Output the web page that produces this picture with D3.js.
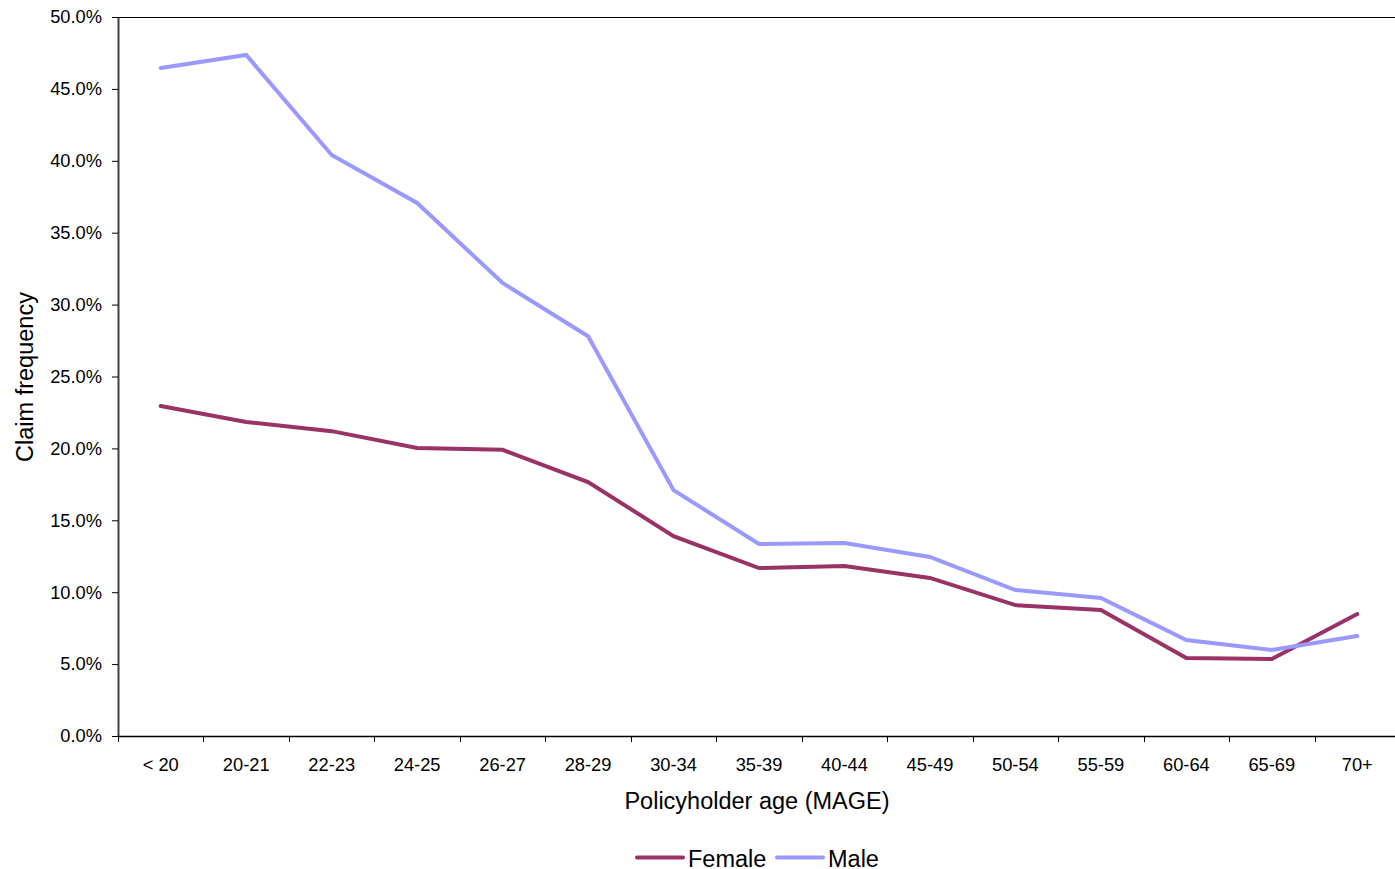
<!DOCTYPE html>
<html><head><meta charset="utf-8">
<script src="https://cdn.jsdelivr.net/npm/d3@7"></script>
<style>body{margin:0;background:#fff;} svg{display:block;font-family:"Liberation Sans",Arial,sans-serif;}</style>
</head><body>
<svg id="c" width="1395" height="869"></svg>
<script>
const categories = ["< 20","20-21","22-23","24-25","26-27","28-29","30-34","35-39","40-44","45-49","50-54","55-59","60-64","65-69","70+"];
const female = [0.2295,0.2184,0.2120,0.2003,0.1990,0.1766,0.1390,0.1168,0.1182,0.1099,0.0910,0.0876,0.0542,0.0535,0.0848];
const male = [0.4645,0.4736,0.4040,0.3707,0.3150,0.2780,0.1710,0.1335,0.1342,0.1245,0.1015,0.0960,0.0668,0.0598,0.0695];
const yTicks = [0,0.05,0.10,0.15,0.20,0.25,0.30,0.35,0.40,0.45,0.50];
const seriesNames = ["Female","Male"];
const colors = ["#993366","#9999FF"];

(function(){
const svg = d3.select("#c");
const pL = 118, pR = 1400, pT = 17, pB = 736;
const FF = "Liberation Sans, Arial, sans-serif";
const x = d3.scaleBand().domain(categories).range([pL, pR]);
const y = d3.scaleLinear().domain([0, 0.5]).range([pB, pT]);

svg.append("line").attr("x1", pL).attr("x2", pR).attr("y1", pT+0.5).attr("y2", pT+0.5).attr("stroke", "#000").attr("stroke-width", 1);

const ya = svg.append("g").attr("transform", `translate(${pL},0)`)
  .call(d3.axisLeft(y).tickValues(yTicks).tickFormat(d3.format(".1%")).tickSize(6).tickSizeOuter(0));
ya.select(".domain").attr("stroke", "#404040").attr("stroke-width", 2);
ya.selectAll(".tick line").attr("stroke", "#000");
ya.selectAll(".tick text").attr("font-size", 18.3).attr("fill", "#000").attr("x", -16).attr("font-family", FF);

const xa = svg.append("g").attr("transform", `translate(0,${pB})`)
  .call(d3.axisBottom(x).tickSize(0).tickSizeOuter(0));
xa.select(".domain").attr("stroke", "#000").attr("stroke-width", 1.5);
xa.selectAll(".tick text").attr("font-size", 18.3).attr("fill", "#000").attr("y", 35).attr("dy", 0).attr("font-family", FF);
const bounds = categories.map(c => x(c)).concat([pR]);
xa.selectAll(".btick").data(bounds).enter().append("line").attr("class","btick")
  .attr("x1", d => Math.round(d)+0.5).attr("x2", d => Math.round(d)+0.5).attr("y1", 0).attr("y2", 6).attr("stroke", "#000");

const line = d3.line().x((d,i) => x(categories[i]) + x.bandwidth()/2).y(d => y(d));
[female, male].forEach((s, k) => {
  svg.append("path").datum(s).attr("d", line).attr("fill", "none")
    .attr("stroke", colors[k]).attr("stroke-width", 4).attr("stroke-linejoin", "miter").attr("stroke-linecap", "round");
});

svg.append("text").attr("x", 757).attr("y", 809).attr("text-anchor", "middle").attr("font-size", 23.5).text("Policyholder age (MAGE)");
svg.append("text").attr("transform", "translate(33,377) rotate(-90)").attr("text-anchor", "middle").attr("font-size", 23.5).text("Claim frequency");

const lg = [{x1:637,x2:683,tx:688},{x1:777,x2:823,tx:828}];
lg.forEach((p,k) => {
  svg.append("line").attr("x1", p.x1).attr("x2", p.x2).attr("y1", 857.5).attr("y2", 857.5).attr("stroke", colors[k]).attr("stroke-width", 4).attr("stroke-linecap","round");
  svg.append("text").attr("x", p.tx).attr("y", 866.5).attr("font-size", 23.5).text(seriesNames[k]);
});
})();
</script>
</body></html>
